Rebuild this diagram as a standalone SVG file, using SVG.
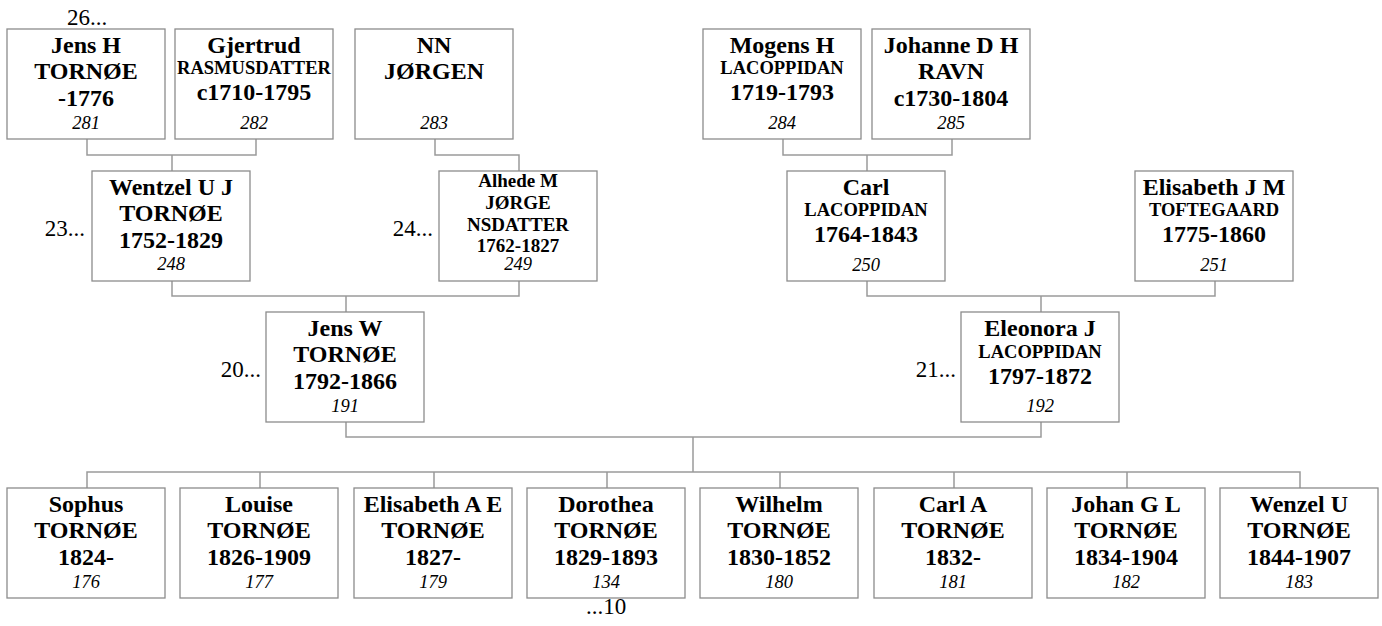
<svg xmlns="http://www.w3.org/2000/svg" width="1382" height="626" viewBox="0 0 1382 626" font-family="'Liberation Serif', 'Times New Roman', Times, serif">
<style>
.bg{fill:#fff}
.b{fill:#fff;stroke:#8c8c8c;stroke-width:1.3}
.c{fill:none;stroke:#9a9a9a;stroke-width:1.5}
text{text-anchor:middle;fill:#000}
.n{font-weight:bold;font-size:24px}
.s{font-weight:bold;font-size:18.5px}
.a{font-weight:bold;font-size:19px}
.i{font-style:italic;font-size:18.5px}
.g{font-size:23px}
.e{text-anchor:end}
</style>
<rect class="bg" x="0" y="0" width="1382" height="626"/>
<g id="connectors">
<path class="c" d="M87,139V155H256V139M172,155V171"/>
<path class="c" d="M435,139V155H519V171"/>
<path class="c" d="M783,139V155H952V139M867,155V171"/>
<path class="c" d="M172,280V296H519V280M346,296V312"/>
<path class="c" d="M867,280V296H1215V280M1041,296V312"/>
<path class="c" d="M346,421V437H1041V421M693,437V472"/>
<path class="c" d="M87,488V472H1300V488M260,472V488M434,472V488M607,472V488M780,472V488M954,472V488M1127,472V488"/>
</g>
<g id="labels">
<text class="g" x="87" y="25">26...</text>
<text class="g e" x="85" y="236">23...</text>
<text class="g e" x="433" y="236">24...</text>
<text class="g e" x="261" y="377">20...</text>
<text class="g e" x="956" y="377">21...</text>
<text class="g" x="606" y="614">...10</text>
</g>
<g id="n281"><rect class="b" x="7" y="29" width="158" height="110"/>
<text class="n" x="86" y="53">Jens H</text><text class="n" x="86" y="79">TORNØE</text><text class="n" x="86" y="106">-1776</text><text class="i" x="86" y="129">281</text></g>
<g id="n282"><rect class="b" x="175" y="29" width="158" height="110"/>
<text class="n" x="254" y="53">Gjertrud</text><text class="s" x="254" y="74">RASMUSDATTER</text><text class="n" x="254" y="100">c1710-1795</text><text class="i" x="254" y="129">282</text></g>
<g id="n283"><rect class="b" x="355" y="29" width="158" height="110"/>
<text class="n" x="434" y="53">NN</text><text class="n" x="434" y="79">JØRGEN</text><text class="i" x="434" y="129">283</text></g>
<g id="n284"><rect class="b" x="703" y="29" width="158" height="110"/>
<text class="n" x="782" y="53">Mogens H</text><text class="s" x="782" y="74">LACOPPIDAN</text><text class="n" x="782" y="100">1719-1793</text><text class="i" x="782" y="129">284</text></g>
<g id="n285"><rect class="b" x="872" y="29" width="158" height="110"/>
<text class="n" x="951" y="53">Johanne D H</text><text class="n" x="951" y="79">RAVN</text><text class="n" x="951" y="106">c1730-1804</text><text class="i" x="951" y="129">285</text></g>
<g id="n248"><rect class="b" x="92" y="171" width="158" height="110"/>
<text class="n" x="171" y="195">Wentzel U J</text><text class="n" x="171" y="221">TORNØE</text><text class="n" x="171" y="248">1752-1829</text><text class="i" x="171" y="270">248</text></g>
<g id="n249"><rect class="b" x="439" y="171" width="158" height="110"/>
<text class="a" x="518" y="187">Alhede M</text><text class="a" x="518" y="209">JØRGE</text><text class="a" x="518" y="231">NSDATTER</text><text class="a" x="518" y="252">1762-1827</text><text class="i" x="518" y="270">249</text></g>
<g id="n250"><rect class="b" x="787" y="171" width="158" height="110"/>
<text class="n" x="866" y="195">Carl</text><text class="s" x="866" y="216">LACOPPIDAN</text><text class="n" x="866" y="242">1764-1843</text><text class="i" x="866" y="271">250</text></g>
<g id="n251"><rect class="b" x="1135" y="171" width="158" height="110"/>
<text class="n" x="1214" y="195">Elisabeth J M</text><text class="s" x="1214" y="216">TOFTEGAARD</text><text class="n" x="1214" y="242">1775-1860</text><text class="i" x="1214" y="271">251</text></g>
<g id="n191"><rect class="b" x="266" y="312" width="158" height="110"/>
<text class="n" x="345" y="336">Jens W</text><text class="n" x="345" y="362">TORNØE</text><text class="n" x="345" y="389">1792-1866</text><text class="i" x="345" y="412">191</text></g>
<g id="n192"><rect class="b" x="961" y="312" width="158" height="110"/>
<text class="n" x="1040" y="336">Eleonora J</text><text class="s" x="1040" y="358">LACOPPIDAN</text><text class="n" x="1040" y="384">1797-1872</text><text class="i" x="1040" y="412">192</text></g>
<g id="n176"><rect class="b" x="7" y="488" width="158" height="110"/>
<text class="n" x="86" y="512">Sophus</text><text class="n" x="86" y="538">TORNØE</text><text class="n" x="86" y="565">1824-</text><text class="i" x="86" y="588">176</text></g>
<g id="n177"><rect class="b" x="180" y="488" width="158" height="110"/>
<text class="n" x="259" y="512">Louise</text><text class="n" x="259" y="538">TORNØE</text><text class="n" x="259" y="565">1826-1909</text><text class="i" x="259" y="588">177</text></g>
<g id="n179"><rect class="b" x="354" y="488" width="158" height="110"/>
<text class="n" x="433" y="512">Elisabeth A E</text><text class="n" x="433" y="538">TORNØE</text><text class="n" x="433" y="565">1827-</text><text class="i" x="433" y="588">179</text></g>
<g id="n134"><rect class="b" x="527" y="488" width="158" height="110"/>
<text class="n" x="606" y="512">Dorothea</text><text class="n" x="606" y="538">TORNØE</text><text class="n" x="606" y="565">1829-1893</text><text class="i" x="606" y="588">134</text></g>
<g id="n180"><rect class="b" x="700" y="488" width="158" height="110"/>
<text class="n" x="779" y="512">Wilhelm</text><text class="n" x="779" y="538">TORNØE</text><text class="n" x="779" y="565">1830-1852</text><text class="i" x="779" y="588">180</text></g>
<g id="n181"><rect class="b" x="874" y="488" width="158" height="110"/>
<text class="n" x="953" y="512">Carl A</text><text class="n" x="953" y="538">TORNØE</text><text class="n" x="953" y="565">1832-</text><text class="i" x="953" y="588">181</text></g>
<g id="n182"><rect class="b" x="1047" y="488" width="158" height="110"/>
<text class="n" x="1126" y="512">Johan G L</text><text class="n" x="1126" y="538">TORNØE</text><text class="n" x="1126" y="565">1834-1904</text><text class="i" x="1126" y="588">182</text></g>
<g id="n183"><rect class="b" x="1220" y="488" width="158" height="110"/>
<text class="n" x="1299" y="512">Wenzel U</text><text class="n" x="1299" y="538">TORNØE</text><text class="n" x="1299" y="565">1844-1907</text><text class="i" x="1299" y="588">183</text></g>
</svg>
